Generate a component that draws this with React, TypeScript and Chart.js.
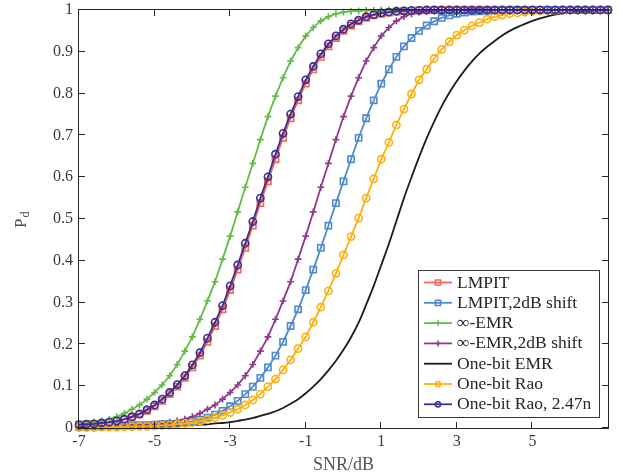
import React, { useEffect, useRef } from 'react';
import { Chart, registerables } from 'chart.js';

Chart.register(...registerables);

const snr = [
  -7, -6.8, -6.6, -6.4, -6.2, -6, -5.8, -5.6, -5.4, -5.2,
  -5, -4.8, -4.6, -4.4, -4.2, -4, -3.8, -3.6, -3.4, -3.2,
  -3, -2.8, -2.6, -2.4, -2.2, -2, -1.8, -1.6, -1.4, -1.2,
  -1, -0.8, -0.6, -0.4, -0.2, 0, 0.2, 0.4, 0.6, 0.8,
  1, 1.2, 1.4, 1.6, 1.8, 2, 2.2, 2.4, 2.6, 2.8,
  3, 3.2, 3.4, 3.6, 3.8, 4, 4.2, 4.4, 4.6, 4.8,
  5, 5.2, 5.4, 5.6, 5.8, 6, 6.2, 6.4, 6.6, 6.8,
  7,
];

const lmpit = [
  0.008, 0.009, 0.010, 0.011, 0.013, 0.016, 0.020, 0.025, 0.032, 0.041,
  0.052, 0.065, 0.081, 0.099, 0.120, 0.145, 0.173, 0.206, 0.244, 0.284,
  0.330, 0.379, 0.431, 0.484, 0.538, 0.590, 0.643, 0.694, 0.741, 0.784,
  0.824, 0.858, 0.888, 0.913, 0.933, 0.950, 0.963, 0.973, 0.981, 0.987,
  0.991, 0.994, 0.996, 0.997, 0.998, 0.999, 0.999, 1, 1, 1,
  1, 1, 1, 1, 1, 1, 1, 1, 1, 1,
  1, 1, 1, 1, 1, 1, 1, 1, 1, 1,
  1,
];

const lmpitShift = [
  0.003, 0.003, 0.004, 0.004, 0.005, 0.005, 0.006, 0.006, 0.007, 0.007,
  0.008, 0.009, 0.010, 0.011, 0.013, 0.016, 0.020, 0.025, 0.032, 0.041,
  0.052, 0.065, 0.081, 0.099, 0.120, 0.145, 0.173, 0.206, 0.244, 0.284,
  0.330, 0.379, 0.431, 0.484, 0.538, 0.590, 0.643, 0.694, 0.741, 0.784,
  0.824, 0.858, 0.888, 0.913, 0.933, 0.950, 0.963, 0.973, 0.981, 0.987,
  0.991, 0.994, 0.996, 0.997, 0.998, 0.999, 0.999, 1, 1, 1,
  1, 1, 1, 1, 1, 1, 1, 1, 1, 1,
  1,
];

const emr = [
  0.009, 0.011, 0.014, 0.017, 0.021, 0.027, 0.035, 0.045, 0.055, 0.069,
  0.085, 0.103, 0.125, 0.152, 0.184, 0.218, 0.260, 0.304, 0.350, 0.404,
  0.459, 0.517, 0.576, 0.633, 0.690, 0.745, 0.794, 0.838, 0.878, 0.910,
  0.938, 0.958, 0.974, 0.984, 0.991, 0.995, 0.997, 0.998, 0.999, 0.999,
  1, 1, 1, 1, 1, 1, 1, 1, 1, 1,
  1, 1, 1, 1, 1, 1, 1, 1, 1, 1,
  1, 1, 1, 1, 1, 1, 1, 1, 1, 1,
  1,
];

const emrShift = [
  0.003, 0.003, 0.004, 0.004, 0.005, 0.005, 0.006, 0.007, 0.007, 0.008,
  0.009, 0.011, 0.014, 0.017, 0.021, 0.027, 0.035, 0.045, 0.055, 0.069,
  0.085, 0.103, 0.125, 0.152, 0.184, 0.218, 0.260, 0.304, 0.350, 0.404,
  0.459, 0.517, 0.576, 0.633, 0.690, 0.745, 0.794, 0.838, 0.878, 0.910,
  0.938, 0.958, 0.974, 0.984, 0.991, 0.995, 0.997, 0.998, 0.999, 0.999,
  1, 1, 1, 1, 1, 1, 1, 1, 1, 1,
  1, 1, 1, 1, 1, 1, 1, 1, 1, 1,
  1,
];

const oneBitEmr = [
  0.001, 0.001, 0.001, 0.001, 0.002, 0.002, 0.002, 0.002, 0.003, 0.003,
  0.003, 0.004, 0.004, 0.005, 0.006, 0.007, 0.008, 0.009, 0.011, 0.012,
  0.014, 0.017, 0.020, 0.024, 0.029, 0.034, 0.040, 0.048, 0.058, 0.069,
  0.083, 0.099, 0.117, 0.138, 0.161, 0.187, 0.217, 0.252, 0.295, 0.340,
  0.390, 0.440, 0.495, 0.550, 0.600, 0.648, 0.693, 0.733, 0.770, 0.802,
  0.830, 0.855, 0.877, 0.896, 0.912, 0.926, 0.939, 0.950, 0.959, 0.967,
  0.974, 0.980, 0.985, 0.989, 0.992, 0.994, 0.996, 0.997, 0.998, 0.999,
  0.999,
];

const oneBitRao = [
  0.001, 0.001, 0.001, 0.002, 0.002, 0.002, 0.003, 0.003, 0.004, 0.004,
  0.005, 0.006, 0.007, 0.009, 0.011, 0.013, 0.016, 0.020, 0.025, 0.030,
  0.037, 0.045, 0.055, 0.067, 0.081, 0.099, 0.117, 0.139, 0.163, 0.190,
  0.218, 0.253, 0.289, 0.328, 0.370, 0.414, 0.458, 0.502, 0.550, 0.596,
  0.643, 0.683, 0.725, 0.763, 0.799, 0.833, 0.858, 0.884, 0.906, 0.924,
  0.940, 0.952, 0.962, 0.970, 0.978, 0.984, 0.988, 0.991, 0.993, 0.995,
  0.997, 0.998, 0.999, 0.999, 1, 1, 1, 1, 1, 1,
  1,
];

const oneBitRao247 = [
  0.008, 0.009, 0.010, 0.012, 0.014, 0.017, 0.021, 0.027, 0.034, 0.044,
  0.055, 0.069, 0.085, 0.104, 0.125, 0.151, 0.180, 0.215, 0.253, 0.293,
  0.340, 0.390, 0.442, 0.494, 0.550, 0.601, 0.655, 0.705, 0.751, 0.793,
  0.833, 0.865, 0.895, 0.919, 0.938, 0.954, 0.967, 0.976, 0.984, 0.989,
  0.993, 0.995, 0.997, 0.998, 0.999, 0.999, 1, 1, 1, 1,
  1, 1, 1, 1, 1, 1, 1, 1, 1, 1,
  1, 1, 1, 1, 1, 1, 1, 1, 1, 1,
  1,
];

const seriesNames = [
  'LMPIT',
  'LMPIT,2dB shift',
  '\u221E-EMR',
  '\u221E-EMR,2dB shift',
  'One-bit EMR',
  'One-bit Rao',
  'One-bit Rao, 2.47n',
];

const xTickValues = [-7, -5, -3, -1, 1, 3, 5];
const xTickLabels = ['-7', '-5', '-3', '-1', '1', '3', '5'];
const yTickValues = [0, 0.1, 0.2, 0.3, 0.4, 0.5, 0.6, 0.7, 0.8, 0.9, 1];
const yTickLabels = ['0', '0.1', '0.2', '0.3', '0.4', '0.5', '0.6', '0.7', '0.8', '0.9', '1'];

const FONT = '"Liberation Serif", "Times New Roman", serif';

type Style = { color: string; marker: string; radius: number; order: number };
const styles: Style[] = [
  { color: '#f0685a', marker: 'rect', radius: 4.4, order: 5 },
  { color: '#4f8acb', marker: 'rect', radius: 4.4, order: 4 },
  { color: '#66bb48', marker: 'cross', radius: 3.4, order: 3 },
  { color: '#8d3b8c', marker: 'cross', radius: 3.4, order: 2 },
  { color: '#1c1c1c', marker: 'none', radius: 0, order: 6 },
  { color: '#fdb00d', marker: 'circle', radius: 3.6, order: 1 },
  { color: '#3b2d91', marker: 'circle', radius: 3.6, order: 0 },
];

const seriesValues = [lmpit, lmpitShift, emr, emrShift, oneBitEmr, oneBitRao, oneBitRao247];

function drawMarker(ctx: CanvasRenderingContext2D, kind: string, x: number, y: number, r: number) {
  ctx.beginPath();
  if (kind === 'rect') {
    ctx.rect(x - r, y - r, 2 * r, 2 * r);
  } else if (kind === 'circle') {
    ctx.arc(x, y, r, 0, Math.PI * 2);
  } else if (kind === 'cross') {
    ctx.moveTo(x - r, y);
    ctx.lineTo(x + r, y);
    ctx.moveTo(x, y - r);
    ctx.lineTo(x, y + r);
  }
  ctx.stroke();
}

const framePlugin = {
  id: 'frameTicksLegend',
  afterDraw(chart: any) {
    const ctx: CanvasRenderingContext2D = chart.ctx;
    const { left, right, top, bottom } = chart.chartArea;
    const xs = chart.scales.x;
    const ys = chart.scales.y;
    ctx.save();
    // frame
    ctx.strokeStyle = '#262626';
    ctx.lineWidth = 1;
    ctx.strokeRect(left - 0.5, top - 0.5, right - left + 1, bottom - top + 1);
    // inward ticks
    const tl = 6;
    ctx.beginPath();
    xTickValues.forEach((v) => {
      const px = Math.round(xs.getPixelForValue(v)) - 0.5;
      ctx.moveTo(px, bottom);
      ctx.lineTo(px, bottom - tl);
      ctx.moveTo(px, top);
      ctx.lineTo(px, top + tl);
    });
    yTickValues.forEach((v) => {
      const py = Math.round(ys.getPixelForValue(v)) - 0.5;
      ctx.moveTo(left, py);
      ctx.lineTo(left + tl, py);
      ctx.moveTo(right, py);
      ctx.lineTo(right - tl, py);
    });
    ctx.stroke();

    // y title P_d (rotated)
    ctx.save();
    ctx.translate(0, 228);
    ctx.rotate(-Math.PI / 2);
    ctx.fillStyle = '#4a4a4a';
    ctx.textBaseline = 'alphabetic';
    ctx.textAlign = 'left';
    ctx.font = `17px ${FONT}`;
    const pw = ctx.measureText('P').width;
    ctx.fillText('P', 0, 26);
    ctx.font = `12px ${FONT}`;
    ctx.fillText('d', pw + 1, 28.5);
    ctx.restore();

    // legend
    const bx = 418.5, by = 270.5, bw = 181, bh = 147;
    ctx.fillStyle = '#ffffff';
    ctx.fillRect(bx, by, bw, bh);
    ctx.strokeStyle = '#3a3a3a';
    ctx.lineWidth = 1;
    ctx.strokeRect(bx, by, bw, bh);
    chart.data.datasets.forEach((ds: any, i: number) => {
      const st = styles[i];
      const y = 282.5 + i * 20.3;
      ctx.strokeStyle = st.color;
      ctx.lineWidth = 1.8;
      ctx.beginPath();
      ctx.moveTo(424, y);
      ctx.lineTo(452, y);
      ctx.stroke();
      if (st.marker !== 'none') {
        ctx.lineWidth = 1.5;
        drawMarker(ctx, st.marker, 438, y, st.marker === 'cross' ? 3 : 2.6);
      }
      ctx.fillStyle = '#262626';
      ctx.font = `17.5px ${FONT}`;
      ctx.textBaseline = 'middle';
      ctx.textAlign = 'left';
      ctx.fillText(ds.label, 457, y + 0.5);
    });
    ctx.restore();
  },
};

export default function App() {
  const canvasRef = useRef<HTMLCanvasElement | null>(null);

  useEffect(() => {
    const canvas = canvasRef.current;
    if (!canvas) return;
    const datasets = seriesValues.map((vals, i) => {
      const st = styles[i];
      return {
        label: seriesNames[i],
        data: snr.map((x, k) => ({ x, y: vals[k] })),
        borderColor: st.color,
        backgroundColor: 'rgba(0,0,0,0)',
        borderWidth: 1.8,
        pointStyle: st.marker === 'none' ? false : st.marker,
        pointRadius: st.radius,
        pointHoverRadius: st.radius,
        pointBorderColor: st.color,
        pointBackgroundColor: 'rgba(0,0,0,0)',
        pointBorderWidth: 1.6,
        tension: st.marker === 'none' ? 0.3 : 0,
        fill: false,
        clip: false as any,
        order: st.order,
      };
    });

    const chart = new Chart(canvas, {
      type: 'line',
      data: { datasets: datasets as any },
      options: {
        responsive: false,
        animation: false,
        devicePixelRatio: 1,
        layout: { padding: { left: 0, top: 10, right: 15, bottom: 0 } },
        plugins: {
          legend: { display: false },
          tooltip: { enabled: false },
        },
        events: [],
        scales: {
          x: {
            type: 'linear',
            min: -7,
            max: 7,
            grid: { display: false, drawTicks: false },
            border: { display: false },
            afterBuildTicks: (scale: any) => {
              scale.ticks = xTickValues.map((v) => ({ value: v }));
            },
            afterFit: (scale: any) => {
              scale.height = 48;
              scale.paddingLeft = 0;
              scale.paddingRight = 0;
            },
            ticks: {
              autoSkip: false,
              maxRotation: 0,
              padding: 4,
              color: '#3a3a3a',
              font: { family: FONT, size: 16 },
              callback: (_v: any, i: number) => xTickLabels[i],
            },
            title: {
              display: true,
              text: 'SNR/dB',
              color: '#555555',
              font: { family: FONT, size: 18 },
              padding: { top: 0, bottom: 0 },
            },
          },
          y: {
            type: 'linear',
            min: 0,
            max: 1,
            grid: { display: false, drawTicks: false },
            border: { display: false },
            afterBuildTicks: (scale: any) => {
              scale.ticks = yTickValues.map((v) => ({ value: v }));
            },
            afterFit: (scale: any) => {
              scale.width = 79;
              scale.paddingTop = 0;
              scale.paddingBottom = 0;
            },
            ticks: {
              autoSkip: false,
              padding: 6,
              color: '#3a3a3a',
              font: { family: FONT, size: 16 },
              callback: (_v: any, i: number) => yTickLabels[i],
            },
          },
        },
      },
      plugins: [framePlugin],
    });
    return () => chart.destroy();
  }, []);

  return (
    <div style={{ position: 'fixed', left: 0, top: 0, width: 623, height: 476, background: '#fff' }}>
      <canvas ref={canvasRef} width={623} height={476} style={{ display: 'block' }} />
    </div>
  );
}
